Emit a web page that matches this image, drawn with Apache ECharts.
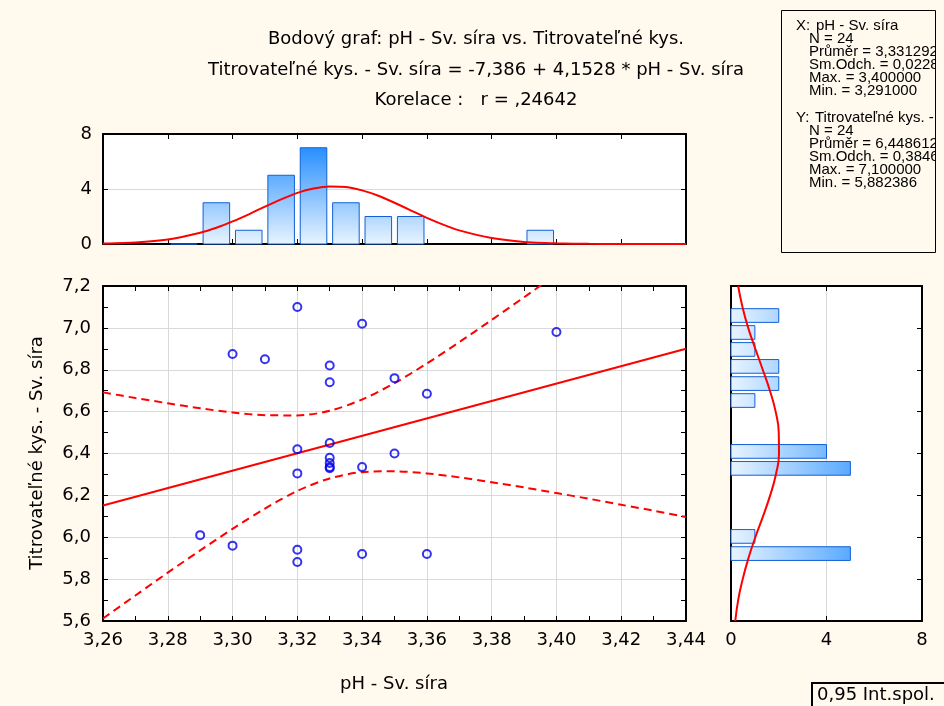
<!DOCTYPE html>
<html>
<head>
<meta charset="utf-8">
<script src="https://cdn.jsdelivr.net/npm/echarts@6/dist/echarts.min.js"></script>
<style>
  html, body { margin: 0; padding: 0; background: #FFF9EE; }
  #chart { width: 944px; height: 706px; }
</style>
</head>
<body>
<div id="chart"></div>
<script>
// ---- data ----
const pointX = [3.29, 3.30, 3.30, 3.31, 3.32, 3.32, 3.32, 3.32, 3.32,
                3.33, 3.33, 3.33, 3.33, 3.33, 3.33, 3.33,
                3.34, 3.34, 3.34, 3.35, 3.35, 3.36, 3.36, 3.40];
const pointY = [6.01, 6.875, 5.96, 6.85, 7.10, 6.42, 6.305, 5.94, 5.882,
                6.82, 6.74, 6.45, 6.38, 6.355, 6.335, 6.33,
                7.02, 6.335, 5.92, 6.76, 6.40, 6.685, 5.92, 6.98];

const topBinCenters = [3.285, 3.295, 3.305, 3.315, 3.325, 3.335, 3.345, 3.355, 3.395];
const topCounts     = [0, 3, 1, 5, 7, 3, 2, 2, 1];

const rightBinCenters = [5.922, 6.004, 6.329, 6.410, 6.653, 6.734, 6.816, 6.897, 6.978, 7.059];
const rightCounts     = [5, 1, 5, 4, 1, 2, 2, 1, 1, 2];

const topCurveX = [3.26, 3.27, 3.28, 3.29, 3.295, 3.30, 3.305, 3.31, 3.315, 3.32, 3.325, 3.33, 3.335,
                   3.34, 3.345, 3.35, 3.355, 3.36, 3.365, 3.37, 3.38, 3.39, 3.40, 3.41, 3.42, 3.43, 3.44];
const topCurve  = [0.03, 0.11, 0.33, 0.82, 1.18, 1.64, 2.16, 2.72, 3.25, 3.72, 4.04, 4.19, 4.15,
                   3.90, 3.51, 3.00, 2.45, 1.90, 1.41, 0.99, 0.43, 0.15, 0.05, 0.01, 0.0, 0.0, 0.0];

const bandX     = [3.26, 3.27, 3.28, 3.29, 3.30, 3.31, 3.32, 3.33, 3.34, 3.35,
                   3.36, 3.37, 3.38, 3.39, 3.40, 3.41, 3.42, 3.43, 3.44];
const bandUpper = [6.692, 6.665, 6.640, 6.616, 6.596, 6.583, 6.582, 6.604, 6.658, 6.736,
                   6.830, 6.932, 7.038, 7.146, 7.256, 7.366, 7.478, 7.590, 7.702];
const bandLower = [5.612, 5.722, 5.831, 5.937, 6.040, 6.137, 6.221, 6.281, 6.311, 6.315,
                   6.305, 6.286, 6.263, 6.238, 6.211, 6.184, 6.155, 6.127, 6.097];

const curveY     = [5.6, 5.7, 5.8, 5.9, 6.0, 6.1, 6.2, 6.3, 6.4, 6.5, 6.6, 6.7, 6.8, 6.9, 7.0, 7.1, 7.2];
const rightCurve = [0.18, 0.30, 0.49, 0.73, 1.02, 1.34, 1.64, 1.88, 2.01, 2.00, 1.87, 1.63, 1.33, 1.02, 0.72, 0.48, 0.30];

const regX = [3.26, 3.44];
const regY = [6.152, 6.900];

const titleLines = [
  'Bodový graf: pH - Sv. síra vs. Titrovateľné kys.',
  'Titrovateľné kys. - Sv. síra = -7,386 + 4,1528 * pH - Sv. síra',
  'Korelace :   r = ,24642'
];
const xName = 'pH - Sv. síra';
const yName = 'Titrovateľné kys. - Sv. síra';
const statsXHead = 'pH - Sv. síra';
const statsXLines = ['N = 24', 'Průměr = 3,331292', 'Sm.Odch. = 0,0228', 'Max. = 3,400000', 'Min. = 3,291000'];
const statsYHead = 'Titrovateľné kys. - Sv. síra';
const statsYLines = ['N = 24', 'Průměr = 6,448612', 'Sm.Odch. = 0,3846', 'Max. = 7,100000', 'Min. = 5,882386'];
const legendText = '0,95 Int.spol.';

// ---- chart ----
const FONT = '"DejaVu Sans", sans-serif';
const BG = '#FFF9EE';
const chart = echarts.init(document.getElementById('chart'), null, { renderer: 'canvas' });

const comma = (d) => (v) => v.toFixed(d).replace('.', ',');
const frameLine = { show: true, onZero: false, lineStyle: { color: '#000', width: 2 } };
const inTick = { show: true, inside: true, length: 5, lineStyle: { color: '#000', width: 1 } };
const minor = { show: true, splitNumber: 2, length: 5, lineStyle: { color: '#000', width: 1 } };
const gridLine = { show: true, lineStyle: { color: '#D9D9D9', width: 1 } };
const lbl = (d, margin) => ({ show: true, color: '#000', fontSize: 18, fontFamily: FONT, margin: margin, formatter: comma(d) });

const pick = (a, b) => a.map((v, i) => [v, b[i]]);

const topBinW = 0.0082, rightBinH = 0.0654;
const blueDeep = '#1A88FF', blueLight = '#E8F4FF', barStroke = '#1060D8';

const graphics = [];
titleLines.forEach((t, i) => {
  graphics.push({ type: 'text', x: 476, y: [39, 70, 100][i], z: 10,
    style: { text: t, font: '18px ' + FONT, fill: '#000', textAlign: 'center', textVerticalAlign: 'middle', align: 'center', verticalAlign: 'middle' } });
});
graphics.push({ type: 'text', x: 37, y: 453, rotation: Math.PI / 2, z: 10,
  style: { text: yName, font: '18px ' + FONT, fill: '#000', textAlign: 'center', textVerticalAlign: 'middle', align: 'center', verticalAlign: 'middle' } });
graphics.push({ type: 'text', x: 394, y: 684, z: 10,
  style: { text: xName, font: '18px ' + FONT, fill: '#000', textAlign: 'center', textVerticalAlign: 'middle', align: 'center', verticalAlign: 'middle' } });

// stats box
const SF = '15px "Liberation Sans", Arial, sans-serif';
const st = (x, y, t) => ({ type: 'text', x: x, y: y, z: 10,
  style: { text: t, font: SF, fill: '#000', textAlign: 'left', textVerticalAlign: 'middle', align: 'left', verticalAlign: 'middle' } });
graphics.push(st(796, 26, 'X:'));
graphics.push(st(816, 26, statsXHead));
statsXLines.forEach((t, i) => graphics.push(st(809, 39 + 13 * i, t)));
graphics.push(st(796, 118, 'Y:'));
graphics.push(st(815, 118, statsYHead));
statsYLines.forEach((t, i) => graphics.push(st(809, 131 + 13 * i, t)));
graphics.push({ type: 'rect', z: 11, shape: { x: 935.5, y: 0, width: 20, height: 270 }, style: { fill: BG } });
graphics.push({ type: 'rect', z: 12, shape: { x: 781.5, y: 10.5, width: 154, height: 242 }, style: { fill: 'none', stroke: '#000', lineWidth: 1 } });

// legend box
graphics.push({ type: 'rect', z: 12, shape: { x: 812, y: 683, width: 150, height: 40 }, style: { fill: BG, stroke: '#000', lineWidth: 2 } });
graphics.push({ type: 'text', x: 817, y: 695, z: 13,
  style: { text: legendText, font: '18px ' + FONT, fill: '#000', textAlign: 'left', textVerticalAlign: 'middle', align: 'left', verticalAlign: 'middle' } });

const option = {
  backgroundColor: BG,
  animation: false,
  textStyle: { fontFamily: FONT },
  grid: [
    { left: 103, top: 286, width: 583, height: 335, show: true, backgroundColor: '#fff', borderWidth: 0 },
    { left: 103, top: 134, width: 583, height: 110, show: true, backgroundColor: '#fff', borderWidth: 0 },
    { left: 731, top: 286, width: 191, height: 335, show: true, backgroundColor: '#fff', borderWidth: 0 }
  ],
  xAxis: [
    { type: 'value', gridIndex: 0, position: 'bottom', min: 3.26, max: 3.44, interval: 0.02,
      axisLine: frameLine, axisTick: inTick, minorTick: minor, axisLabel: lbl(2, 10), splitLine: gridLine },
    { type: 'value', gridIndex: 0, position: 'top', min: 3.26, max: 3.44, interval: 0.02,
      axisLine: frameLine, axisTick: inTick, minorTick: minor, axisLabel: { show: false }, splitLine: { show: false } },
    { type: 'value', gridIndex: 1, position: 'bottom', min: 3.26, max: 3.44, interval: 0.02,
      axisLine: frameLine, axisTick: inTick, axisLabel: { show: false }, splitLine: { show: false } },
    { type: 'value', gridIndex: 1, position: 'top', min: 3.26, max: 3.44, interval: 0.02,
      axisLine: frameLine, axisTick: inTick, axisLabel: { show: false }, splitLine: { show: false } },
    { type: 'value', gridIndex: 2, position: 'bottom', min: 0, max: 8, interval: 4,
      axisLine: frameLine, axisTick: inTick, axisLabel: lbl(0, 10), splitLine: gridLine },
    { type: 'value', gridIndex: 2, position: 'top', min: 0, max: 8, interval: 4,
      axisLine: frameLine, axisTick: inTick, axisLabel: { show: false }, splitLine: { show: false } }
  ],
  yAxis: [
    { type: 'value', gridIndex: 0, position: 'left', min: 5.6, max: 7.2, interval: 0.2,
      axisLine: frameLine, axisTick: inTick, minorTick: minor, axisLabel: lbl(1, 12), splitLine: gridLine },
    { type: 'value', gridIndex: 0, position: 'right', min: 5.6, max: 7.2, interval: 0.2,
      axisLine: frameLine, axisTick: inTick, minorTick: minor, axisLabel: { show: false }, splitLine: { show: false } },
    { type: 'value', gridIndex: 1, position: 'left', min: 0, max: 8, interval: 4,
      axisLine: frameLine, axisTick: inTick, axisLabel: lbl(0, 11), splitLine: gridLine },
    { type: 'value', gridIndex: 1, position: 'right', min: 0, max: 8, interval: 4,
      axisLine: frameLine, axisTick: inTick, axisLabel: { show: false }, splitLine: { show: false } },
    { type: 'value', gridIndex: 2, position: 'left', min: 5.6, max: 7.2, interval: 0.2,
      axisLine: frameLine, axisTick: { show: false }, axisLabel: { show: false }, splitLine: { show: false } },
    { type: 'value', gridIndex: 2, position: 'right', min: 5.6, max: 7.2, interval: 0.2,
      axisLine: frameLine, axisTick: inTick, axisLabel: { show: false }, splitLine: { show: false } }
  ],
  graphic: graphics,
  series: [
    { type: 'line', name: 'upper', xAxisIndex: 0, yAxisIndex: 0, data: pick(bandX, bandUpper), symbol: 'none', smooth: 0.3, clip: true,
      lineStyle: { color: '#FF0000', width: 2, type: [8, 5] }, z: 3 },
    { type: 'line', name: 'lower', xAxisIndex: 0, yAxisIndex: 0, data: pick(bandX, bandLower), symbol: 'none', smooth: 0.3, clip: true,
      lineStyle: { color: '#FF0000', width: 2, type: [8, 5] }, z: 3 },
    { type: 'line', name: 'fit', xAxisIndex: 0, yAxisIndex: 0, data: pick(regX, regY), symbol: 'none', clip: true,
      lineStyle: { color: '#FF0000', width: 2 }, z: 3 },
    { type: 'scatter', xAxisIndex: 0, yAxisIndex: 0, data: pick(pointX, pointY), symbol: 'circle', symbolSize: 8,
      itemStyle: { color: 'rgba(0,0,0,0)', borderColor: '#0000EE', borderWidth: 2 }, z: 5 },
    { type: 'custom', xAxisIndex: 2, yAxisIndex: 2, data: pick(topBinCenters, topCounts), z: 3,
      renderItem: function (params, api) {
        const c = api.value(0), n = api.value(1);
        const p0 = api.coord([c - topBinW / 2, n]);
        const p1 = api.coord([c + topBinW / 2, 0]);
        const gTop = api.coord([c, 7.5])[1], gBot = api.coord([c, 0])[1];
        return { type: 'rect',
          shape: { x: p0[0], y: p0[1], width: p1[0] - p0[0], height: p1[1] - p0[1] },
          style: { fill: new echarts.graphic.LinearGradient(0, gTop, 0, gBot,
                    [{ offset: 0, color: blueDeep }, { offset: 1, color: blueLight }], true),
                   stroke: barStroke, lineWidth: 1 } };
      } },
    { type: 'line', xAxisIndex: 2, yAxisIndex: 2, data: pick(topCurveX, topCurve), symbol: 'none', smooth: 0.2,
      lineStyle: { color: '#FF0000', width: 2 }, z: 4 },
    { type: 'custom', xAxisIndex: 4, yAxisIndex: 4, data: pick(rightCounts, rightBinCenters), z: 3,
      renderItem: function (params, api) {
        const n = api.value(0), c = api.value(1);
        const p0 = api.coord([0, c + rightBinH / 2]);
        const p1 = api.coord([n, c - rightBinH / 2]);
        const gL = api.coord([0, c])[0], gR = api.coord([7.3, c])[0];
        return { type: 'rect',
          shape: { x: p0[0], y: p0[1], width: p1[0] - p0[0], height: p1[1] - p0[1] },
          style: { fill: new echarts.graphic.LinearGradient(gL, 0, gR, 0,
                    [{ offset: 0, color: blueLight }, { offset: 1, color: blueDeep }], true),
                   stroke: barStroke, lineWidth: 1 } };
      } },
    { type: 'line', xAxisIndex: 4, yAxisIndex: 4, data: pick(rightCurve, curveY), symbol: 'none', smooth: true,
      lineStyle: { color: '#FF0000', width: 2 }, z: 4 }
  ]
};
chart.setOption(option);
</script>
</body>
</html>
